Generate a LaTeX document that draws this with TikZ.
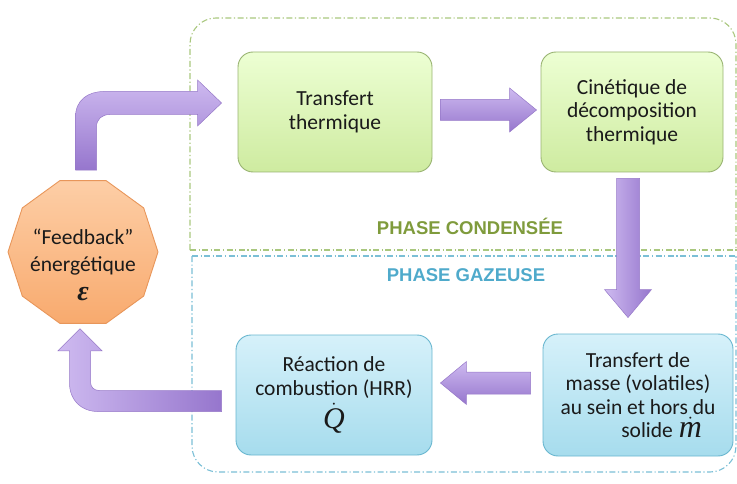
\documentclass[tikz,border=0pt]{standalone}
\usepackage{amsmath}
\usepackage{fontspec}
\setmainfont{Carlito}
\newfontfamily\arialf{Liberation Sans}
\newfontfamily\timesf{Liberation Serif}
\usetikzlibrary{shapes.geometric,calc}
\definecolor{txt}{HTML}{1A1A1A}
\definecolor{grnline}{HTML}{A9C77E}
\definecolor{bluline}{HTML}{7BBFD6}
\definecolor{grntxt}{HTML}{7F9B3C}
\definecolor{blutxt}{HTML}{4FAACB}
\tikzset{
  base/.style={rounded corners=15pt, align=center, inner sep=0pt, text=txt,
    font=\fontsize{21.5}{23.5}\selectfont, line width=0.9pt},
  greenbox/.style={base, draw=grnline!90!black, top color=green!8!white!90!yellow, bottom color={rgb,255:red,206;green,235;blue,160}},
  bluebox/.style={base, draw={rgb,255:red,104;green,182;blue,207}, top color={rgb,255:red,214;green,241;blue,250}, bottom color={rgb,255:red,166;green,220;blue,237}},
  decag/.style={regular polygon, regular polygon sides=10, minimum size=150pt, inner sep=0pt,
    draw={rgb,255:red,232;green,150;blue,90}, line width=0.9pt, top color={rgb,255:red,253;green,206;blue,166}, bottom color={rgb,255:red,248;green,170;blue,110}},
  decagtext/.style={align=center, text=txt, inner sep=0pt, font=\fontsize{21.5}{27}\selectfont},
  blockarrow/.style={draw={rgb,255:red,150;green,120;blue,200}, line width=0.5pt, top color={rgb,255:red,206;green,186;blue,240}, bottom color={rgb,255:red,150;green,118;blue,205}},
  blockarrowh/.style={draw={rgb,255:red,150;green,120;blue,200}, line width=0.5pt, left color={rgb,255:red,206;green,186;blue,240}, right color={rgb,255:red,150;green,118;blue,205}},
  greenzone/.style={draw=grnline, line width=1.1pt, dash pattern=on 6pt off 2.5pt on 1.2pt off 2.5pt},
  bluezone/.style={draw=bluline, line width=1.1pt, dash pattern=on 6pt off 2.5pt on 1.2pt off 2.5pt},
  phase/.style={font=\arialf\bfseries\fontsize{18.5}{20}\selectfont}
}
\begin{document}
\begin{tikzpicture}[x=1pt,y=-1pt]
\useasboundingbox (0,0) rectangle (737,484);
% zones
\draw[greenzone, rounded corners=26pt] (190,250) -- (190,18) -- (736,18) -- (736,250);
\draw[greenzone] (190,250) -- (737,250);
\draw[bluezone, rounded corners=26pt] (192,256) -- (192,472) -- (736,472) -- (736,256);
\draw[bluezone] (192,256) -- (737,256);
\node[phase, text=grntxt] (pc) at (470,226) {PHASE CONDENSÉE};
\node[phase, text=blutxt] (pg) at (466,275) {PHASE GAZEUSE};
% boxes
\node[greenbox, minimum width=194pt, minimum height=120pt] (t1) at (335,112) {Transfert\\thermique};
\node[greenbox, minimum width=182pt, minimum height=120pt] (t2) at (632,112) {Cinétique de\\décomposition\\thermique};
\node[bluebox, minimum width=196pt, minimum height=120pt] (r1) at (334,395) {Réaction de\\combustion (HRR)\\[4pt]{\fontsize{30}{26}\selectfont$\dot{\text{\timesf\itshape Q}}$}};
\node[bluebox, minimum width=190pt, minimum height=122pt] (m1) at (638,395) {Transfert de\\masse (volatiles)\\au sein et hors du\\\hspace*{2.2em}solide\;{\fontsize{32}{20}\selectfont$\dot{\text{\timesf\itshape m}}$}};
\node[decag] (fb) at (83,252) {};
\node[decagtext] (fbt) at ($(fb.center)+(0,13)$) {“Feedback”\\énergétique\\[2pt]{\fontsize{28}{28}\selectfont\timesf\bfseries\itshape ε}};
% straight block arrows
\coordinate (a1s) at ($(t1.east)+(8,-2)$);
\coordinate (a1e) at ($(t2.west)+(-4,-2)$);
\draw[blockarrow] ($(a1s)+(0,-10.5)$) -- ($(a1e)+(-27,-10.5)$) -- ($(a1e)+(-27,-22)$) -- (a1e)
  -- ($(a1e)+(-27,22)$) -- ($(a1e)+(-27,10.5)$) -- ($(a1s)+(0,10.5)$) -- cycle;
\coordinate (a2s) at ($(t2.south)+(-4,6)$);
\coordinate (a2e) at ($(m1.north)+(-10,-16)$);
\draw[blockarrowh] ($(a2s)+(-11.5,0)$) -- ($(a2e)+(-11.5,-28)$) -- ($(a2e)+(-23.5,-28)$) -- (a2e)
  -- ($(a2e)+(23.5,-28)$) -- ($(a2e)+(11.5,-28)$) -- ($(a2s)+(11.5,0)$) -- cycle;
\coordinate (a3s) at ($(m1.west)+(-12,-12)$);
\coordinate (a3e) at ($(r1.east)+(8,-12)$);
\draw[blockarrow] ($(a3s)+(0,-11)$) -- ($(a3e)+(26,-11)$) -- ($(a3e)+(26,-21.5)$) -- (a3e)
  -- ($(a3e)+(26,21.5)$) -- ($(a3e)+(26,11)$) -- ($(a3s)+(0,11)$) -- cycle;
% bent arrows
\coordinate (b1s) at ($(fb.north)+(3,-10)$);
\coordinate (b1e) at ($(t1.west)+(-16,-9)$);
\draw[blockarrow] ($(b1s)+(-10.5,0)$) -- ($(b1s |- b1e)+(-10.5,14)$)
  .. controls ($(b1s |- b1e)+(-10.5,-3)$) and ($(b1s |- b1e)+(2,-11.5)$) .. ($(b1s |- b1e)+(18,-11.5)$)
  -- ($(b1e)+(-24,-11.5)$) -- ($(b1e)+(-24,-23)$) -- (b1e) -- ($(b1e)+(-24,23)$) -- ($(b1e)+(-24,11.5)$)
  -- ($(b1s |- b1e)+(24,11.5)$) .. controls ($(b1s |- b1e)+(16,11.5)$) and ($(b1s |- b1e)+(10.5,16)$) .. ($(b1s |- b1e)+(10.5,24)$)
  -- ($(b1s)+(10.5,0)$) -- cycle;
\coordinate (b2s) at ($(r1.west)+(-14,6)$);
\coordinate (b2e) at ($(fb.south)+(-3,5)$);
\draw[blockarrowh] ($(b2s)+(0,-10.5)$) -- ($(b2e |- b2s)+(19,-10.5)$)
  .. controls ($(b2e |- b2s)+(14,-10.5)$) and ($(b2e |- b2s)+(10.5,-14)$) .. ($(b2e |- b2s)+(10.5,-19)$)
  -- ($(b2e)+(10.5,22)$) -- ($(b2e)+(22,22)$) -- (b2e) -- ($(b2e)+(-22,22)$) -- ($(b2e)+(-10.5,22)$)
  -- ($(b2e |- b2s)+(-10.5,-18)$) .. controls ($(b2e |- b2s)+(-10.5,-1)$) and ($(b2e |- b2s)+(1,10.5)$) .. ($(b2e |- b2s)+(18,10.5)$)
  -- ($(b2s)+(0,10.5)$) -- cycle;
\end{tikzpicture}
\end{document}
